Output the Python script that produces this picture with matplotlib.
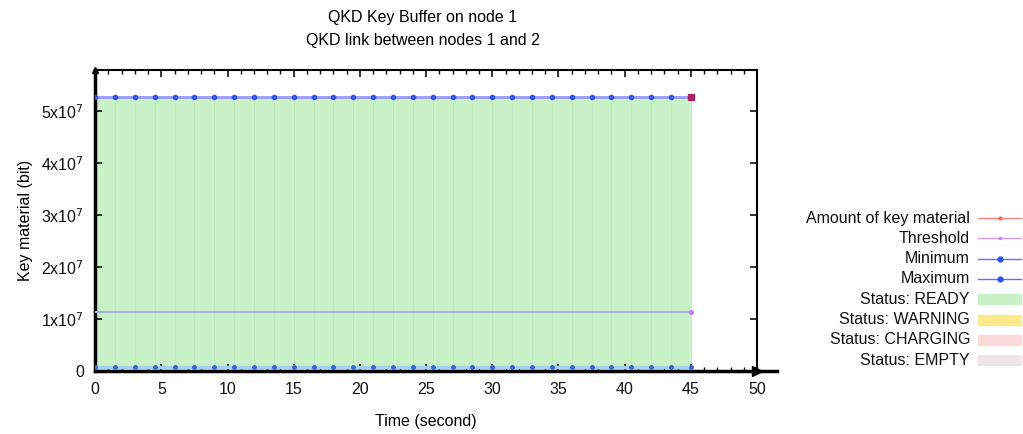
import matplotlib
matplotlib.use('Agg')
import matplotlib.pyplot as plt
from matplotlib.patches import Rectangle
from matplotlib.lines import Line2D
from matplotlib.ticker import MultipleLocator, FuncFormatter

plt.rcParams['font.family'] = ['Liberation Sans', 'DejaVu Sans']

# sample times (seconds) and buffer values (bit)
times = [0, 1.5, 3, 4.5, 6, 7.5, 9, 10.5, 12, 13.5, 15, 16.5, 18, 19.5, 21, 22.5,
         24, 25.5, 27, 28.5, 30, 31.5, 33, 34.5, 36, 37.5, 39, 40.5, 42, 43.5, 45]
maximum = [5.27e7] * len(times)
minimum = [0.08e7] * len(times)
threshold = [1.13e7] * len(times)
amount = [5.27e7] * len(times)
status = ['READY'] * len(times)

status_colors = {'READY': '#c9f2c9', 'WARNING': '#fbe98a',
                 'CHARGING': '#fcdada', 'EMPTY': '#ece7e7'}

fig = plt.figure(figsize=(10.23, 4.34), dpi=100)
ax = fig.add_axes([0.093, 0.145, 0.647, 0.694])

# status fill: one bar per sample interval
for i in range(len(times) - 1):
    ax.bar(times[i], maximum[i], width=times[i + 1] - times[i], align='edge',
           color=status_colors[status[i]], edgecolor='#c2e9c2', linewidth=0.6, zorder=1)

ax.plot(times, threshold, color='#a8b0dc', lw=1.5, zorder=3)
ax.plot(times[-1], threshold[-1], marker='.', color='#c070ff', ms=5, zorder=4)
ax.plot(times, maximum, color='#9898ff', lw=2, marker='o', ms=3,
        mfc='#3355ee', mec='#3355ee', markevery=list(range(len(times) - 1)), zorder=4)
ax.plot(times[-1], amount[-1], marker='s', color='#aa2266', ms=4, zorder=5)
ax.plot(times, minimum, color='#a8d0f4', lw=2.5, marker='o', ms=2.5,
        mfc='#3366dd', mec='#3366dd', zorder=4)

ax.set_xlim(0, 50)
ax.set_ylim(0, 5.8e7)
ax.xaxis.set_major_locator(MultipleLocator(5))
ax.xaxis.set_minor_locator(MultipleLocator(1))
ax.yaxis.set_major_locator(MultipleLocator(1e7))


def sci(v, pos):
    if v == 0:
        return '0'
    return r'%dx10$^{7}$' % round(v / 1e7)


ax.yaxis.set_major_formatter(FuncFormatter(sci))
ax.tick_params(which='both', direction='in', top=True, right=True, labelsize=11.5,
               colors='#111111')
ax.tick_params(which='major', length=5, width=1.2, pad=8)
ax.tick_params(which='minor', length=3, width=1)

for side in ['left', 'bottom']:
    ax.spines[side].set_linewidth(2.5)
for side in ['top', 'right']:
    ax.spines[side].set_linewidth(1.5)

# axis arrows
ax.plot(1, 0, '>k', ms=7, transform=ax.transAxes, clip_on=False)
ax.plot(0, 1, '^k', ms=5, transform=ax.transAxes, clip_on=False)
ax.spines['bottom'].set_bounds(0, 51.5)

ax.set_xlabel('Time (second)', fontsize=11.5, labelpad=12)
ax.set_ylabel('Key material (bit)', fontsize=11.5, labelpad=6)
fig.text(0.413, 0.96, 'QKD Key Buffer on node 1', ha='center', va='center', fontsize=11.5)
fig.text(0.413, 0.907, 'QKD link between nodes 1 and 2', ha='center', va='center',
         fontsize=11.5)

# gnuplot-style key: right-aligned labels, samples on the right
labels = ['Amount of key material', 'Threshold', 'Minimum', 'Maximum',
          'Status: READY', 'Status: WARNING', 'Status: CHARGING', 'Status: EMPTY']
line_keys = [('#ff6060', '.', 4), ('#c080ff', '.', 3), ('#3050ff', 'o', 3.5),
             ('#3050ff', 'o', 3.5)]
fill_keys = ['READY', 'WARNING', 'CHARGING', 'EMPTY']
W, H = 1023.0, 434.0
x_text = 970 / W
x0, x1 = 978 / W, 1021 / W
for i, lab in enumerate(labels):
    y = 1 - (218 + i * 20.3) / H
    fig.text(x_text, y, lab, ha='right', va='center', fontsize=11.5, color='#111111')
    if i < 4:
        c, m, s = line_keys[i]
        fig.add_artist(Line2D([x0, x1], [y, y], color=c, lw=1, alpha=0.8,
                              transform=fig.transFigure))
        fig.add_artist(Line2D([(x0 + x1) / 2], [y], color=c, marker=m, ms=s,
                              transform=fig.transFigure))
    else:
        fig.add_artist(Rectangle((x0, y - 5 / H), x1 - x0, 10 / H,
                                 color=status_colors[fill_keys[i - 4]],
                                 transform=fig.transFigure))

fig.savefig('out.png', dpi=100)
